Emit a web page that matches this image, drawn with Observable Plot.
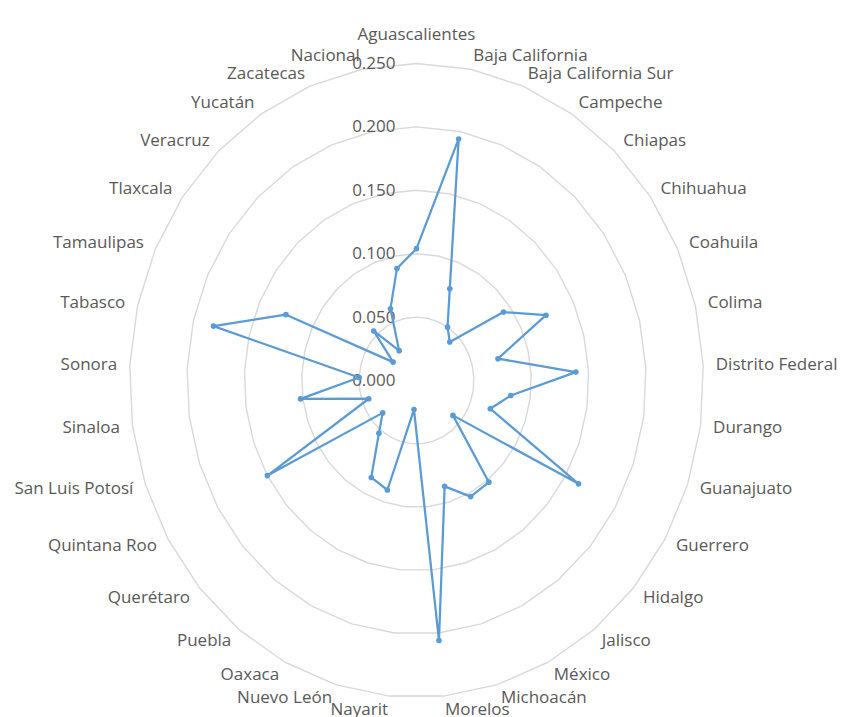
<!DOCTYPE html>
<html>
<head>
<meta charset="utf-8">
<script src="https://cdn.jsdelivr.net/npm/d3@7"></script>
<script src="https://cdn.jsdelivr.net/npm/@observablehq/plot@0.6"></script>
<style>
  html, body { margin: 0; padding: 0; background: #fff; overflow: hidden; }
</style>
</head>
<body>
<div id="chart"></div>
<script>
const categories = [
  "Aguascalientes", "Baja California", "Baja California Sur", "Campeche", "Chiapas",
  "Chihuahua", "Coahuila", "Colima", "Distrito Federal", "Durango", "Guanajuato",
  "Guerrero", "Hidalgo", "Jalisco", "México", "Michoacán", "Morelos", "Nayarit",
  "Nuevo León", "Oaxaca", "Puebla", "Querétaro", "Quintana Roo", "San Luis Potosí",
  "Sinaloa", "Sonora", "Tabasco", "Tamaulipas", "Tlaxcala", "Veracruz", "Yucatán",
  "Zacatecas", "Nacional"
];
const values = [
  0.104, 0.194, 0.078, 0.050, 0.042,
  0.093, 0.124, 0.073, 0.139, 0.083, 0.068,
  0.163, 0.042, 0.102, 0.103, 0.087, 0.206, 0.023,
  0.090, 0.086, 0.053, 0.039, 0.150, 0.044,
  0.102, 0.050, 0.182, 0.125, 0.025, 0.054, 0.028,
  0.061, 0.090
];
const ticks = [0, 0.05, 0.10, 0.15, 0.20, 0.25];
const tickLabels = ["0.000", "0.050", "0.100", "0.150", "0.200", "0.250"];

const n = categories.length;
const maxR = ticks[ticks.length - 1];
const labelR = 0.261;
const ang = i => (i * 2 * Math.PI) / n;

const pts = values.map((v, i) => ({ cat: categories[i], x: v * Math.sin(ang(i)), y: v * Math.cos(ang(i)) }));
const closed = [...pts, pts[0]];

const rings = ticks.slice(1).flatMap(r =>
  d3.range(n + 1).map(i => ({ r, x: r * Math.sin(ang(i % n)), y: r * Math.cos(ang(i % n)) }))
);

const labels = categories.map((c, i) => ({
  c, i, x: labelR * Math.sin(ang(i)), y: labelR * Math.cos(ang(i)),
  side: i === 0 ? "middle" : (i < n / 2 ? "start" : "end")
}));

const font = "'Open Sans', 'Noto Sans', sans-serif";
const gray = "#595959";

const chart = Plot.plot({
  width: 845,
  height: 717,
  margin: 0,
  x: { type: "linear", domain: [-maxR, maxR], range: [129, 703], axis: null },
  y: { type: "linear", domain: [-maxR, maxR], range: [697, 63], axis: null },
  style: { fontFamily: font, fontSize: "17px", background: "#fff" },
  marks: [
    Plot.line(rings, { x: "x", y: "y", z: "r", stroke: "#d9d9d9", strokeWidth: 1.4 }),
    Plot.text(ticks, { x: () => 0, y: d => d, text: (d, i) => tickLabels[i], textAnchor: "end", dx: -21, fill: gray, fontSize: 17 }),
    Plot.text(labels.filter(d => d.side === "middle"), { x: "x", y: "y", text: "c", textAnchor: "middle", dy: -15, fill: gray, fontSize: 17 }),
    Plot.text(labels.filter(d => d.side === "start"), { x: "x", y: "y", text: "c", textAnchor: "start", fill: gray, fontSize: 17 }),
    Plot.text(labels.filter(d => d.side === "end"), { x: "x", y: "y", text: "c", textAnchor: "end", fill: gray, fontSize: 17 }),
    Plot.line(closed, { x: "x", y: "y", stroke: "#5b9bd5", strokeWidth: 2.25, strokeLinejoin: "round" }),
    Plot.dot(pts, { x: "x", y: "y", r: 2.8, fill: "#5b9bd5", stroke: "none" })
  ]
});
document.getElementById("chart").appendChild(chart);
</script>
</body>
</html>
